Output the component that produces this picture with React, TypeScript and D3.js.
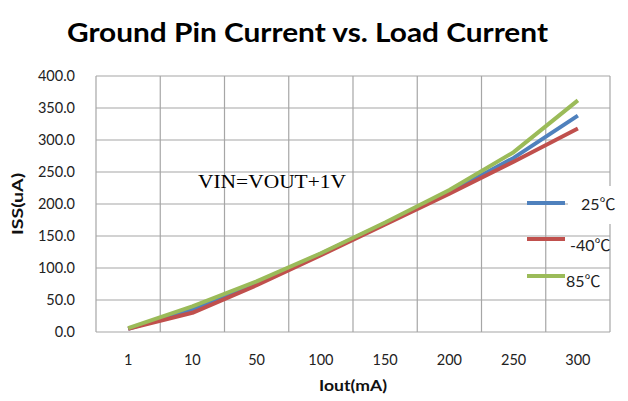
import { useRef, useEffect } from 'react';
import * as d3 from 'd3';

// Data
const loadCurrents = ['1', '10', '50', '100', '150', '200', '250', '300'];
const iss25 = [5, 35, 76, 122, 170, 218, 272, 338];
const issMinus40 = [5, 30, 73, 120, 168, 216, 266, 318];
const iss85 = [6, 40, 79, 123, 171, 222, 281, 362];
const seriesNames = ['25℃', '-40℃', '85℃'];
const seriesColors = ['#4F81BD', '#C0504D', '#9BBB59'];
const yTicks = [0, 50, 100, 150, 200, 250, 300, 350, 400];

const FONT = 'Lato, "Noto Sans CJK SC", sans-serif';

function App() {
  const ref = useRef<HTMLDivElement>(null);

  useEffect(() => {
    const container = ref.current;
    if (!container) return;
    container.innerHTML = '';

    const W = 628;
    const H = 401;
    const plot = { left: 96, right: 610, top: 76, bottom: 332 };

    const svg = d3.select(container)
      .append('svg')
      .attr('width', W)
      .attr('height', H)
      .style('position', 'absolute')
      .style('left', '0px')
      .style('top', '0px')
      .style('background', '#fff');

    const x = d3.scaleBand<string>()
      .domain(loadCurrents)
      .range([plot.left, plot.right])
      .padding(0);

    const y = d3.scaleLinear()
      .domain([0, 400])
      .range([plot.bottom, plot.top]);

    const cx = (c: string) => (x(c) as number) + x.bandwidth() / 2;

    // horizontal gridlines
    svg.append('g')
      .selectAll('line')
      .data(yTicks)
      .enter()
      .append('line')
      .attr('x1', plot.left)
      .attr('x2', plot.right)
      .attr('y1', d => y(d))
      .attr('y2', d => y(d))
      .attr('stroke', '#A6A6A6')
      .attr('stroke-width', 1.2);

    // vertical gridlines at category boundaries
    const bounds = loadCurrents.map(c => x(c) as number).concat([plot.right]);
    svg.append('g')
      .selectAll('line')
      .data(bounds)
      .enter()
      .append('line')
      .attr('x1', d => d)
      .attr('x2', d => d)
      .attr('y1', plot.top)
      .attr('y2', plot.bottom)
      .attr('stroke', '#A6A6A6')
      .attr('stroke-width', 1.2);

    // y tick labels
    svg.append('g')
      .selectAll('text')
      .data(yTicks)
      .enter()
      .append('text')
      .attr('x', 75)
      .attr('y', d => y(d) + 5)
      .attr('text-anchor', 'end')
      .attr('font-family', FONT)
      .attr('font-size', 14.5)
      .attr('fill', '#222')
      .text(d => d.toFixed(1));

    // x tick labels
    svg.append('g')
      .selectAll('text')
      .data(loadCurrents)
      .enter()
      .append('text')
      .attr('x', d => cx(d))
      .attr('y', 365)
      .attr('text-anchor', 'middle')
      .attr('font-family', FONT)
      .attr('font-size', 14.5)
      .attr('fill', '#222')
      .text(d => d);

    // axis titles
    svg.append('text')
      .attr('x', (plot.left + plot.right) / 2)
      .attr('y', 391)
      .attr('text-anchor', 'middle')
      .attr('font-family', FONT)
      .attr('font-weight', 700)
      .attr('font-size', 16)
      .attr('textLength', 68)
      .attr('lengthAdjust', 'spacingAndGlyphs')
      .attr('fill', '#111')
      .text('Iout(mA)');

    svg.append('text')
      .attr('transform', 'translate(23,204) rotate(-90)')
      .attr('text-anchor', 'middle')
      .attr('font-family', FONT)
      .attr('font-weight', 700)
      .attr('font-size', 16)
      .attr('textLength', 62)
      .attr('lengthAdjust', 'spacingAndGlyphs')
      .attr('fill', '#111')
      .text('ISS(uA)');

    // title
    svg.append('text')
      .attr('x', 67)
      .attr('y', 42)
      .attr('font-family', FONT)
      .attr('font-weight', 700)
      .attr('font-size', 27)
      .attr('textLength', 481)
      .attr('lengthAdjust', 'spacingAndGlyphs')
      .attr('fill', '#000')
      .text('Ground Pin Current vs. Load Current');

    // annotation
    svg.append('text')
      .attr('x', 198)
      .attr('y', 188)
      .attr('font-family', '"Liberation Serif", "DejaVu Serif", serif')
      .attr('font-size', 18)
      .attr('textLength', 148)
      .attr('lengthAdjust', 'spacingAndGlyphs')
      .attr('fill', '#000')
      .text('VIN=VOUT+1V');

    // series lines
    const series = [iss25, issMinus40, iss85];
    const line = d3.line<number>()
      .x((_, i) => cx(loadCurrents[i]))
      .y(d => y(d));

    svg.append('g')
      .selectAll('path')
      .data(series)
      .enter()
      .append('path')
      .attr('d', d => line(d))
      .attr('fill', 'none')
      .attr('stroke', (_, i) => seriesColors[i])
      .attr('stroke-width', 4)
      .attr('stroke-linejoin', 'round');

    // legend (white patch behind first label covers the plot border, as in the original)
    svg.append('rect')
      .attr('x', 568)
      .attr('y', 186)
      .attr('width', 60)
      .attr('height', 38)
      .attr('fill', '#fff');

    const legendY = [203, 239, 276];
    const legendTextX = [581, 570, 566];
    const legendTextY = [210, 251, 287];
    const lg = svg.append('g');
    seriesNames.forEach((name, i) => {
      lg.append('line')
        .attr('x1', 527)
        .attr('x2', 565)
        .attr('y1', legendY[i])
        .attr('y2', legendY[i])
        .attr('stroke', seriesColors[i])
        .attr('stroke-width', 4);
      lg.append('text')
        .attr('x', legendTextX[i])
        .attr('y', legendTextY[i])
        .attr('font-family', FONT)
        .attr('font-size', 16)
        .attr('fill', '#222')
        .text(name);
    });
  }, []);

  return <div ref={ref}></div>;
}

export default App;
